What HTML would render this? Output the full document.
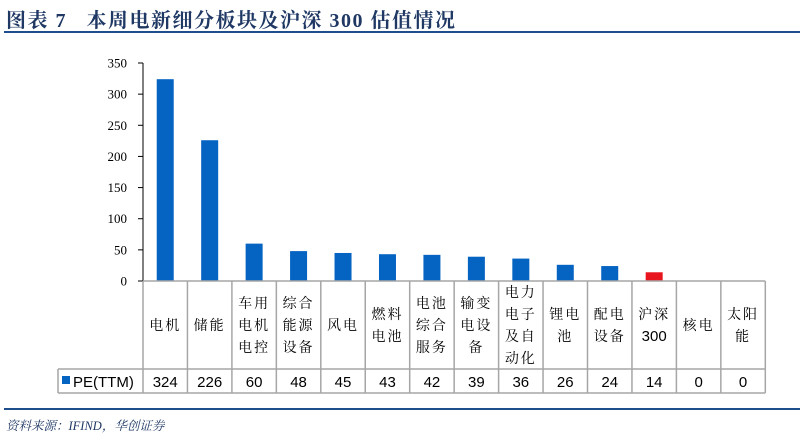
<!DOCTYPE html>
<html><head><meta charset="utf-8">
<style>
body{margin:0;width:804px;height:440px;background:#fff;position:relative;overflow:hidden;font-family:"Liberation Sans","Noto Sans CJK SC",sans-serif}
.title{position:absolute;left:6px;top:4px;font-family:"Liberation Serif","Noto Serif CJK SC",serif;font-weight:bold;font-size:20px;color:#1f3864;letter-spacing:1.5px;white-space:nowrap}
.rule{position:absolute;left:4px;width:796px;height:2px;background:#1f4e8c}
.src{position:absolute;left:6px;top:416px;font-family:"Liberation Serif","Noto Serif CJK SC",serif;font-style:italic;font-size:12.5px;color:#1f3864}
</style></head><body>
<div class="title">图表 7 &nbsp; 本周电新细分板块及沪深 300 估值情况</div>
<div class="rule" style="top:31px"></div>
<svg id="chart" width="804" height="440" style="position:absolute;left:0;top:0"></svg>
<div class="rule" style="top:408px"></div>
<div class="src">资料来源：IFIND，华创证券</div>
<script>
const categories=[["电机"],["储能"],["车用","电机","电控"],["综合","能源","设备"],["风电"],["燃料","电池"],["电池","综合","服务"],["输变","电设","备"],["电力","电子","及自","动化"],["锂电","池"],["配电","设备"],["沪深","300"],["核电"],["太阳","能"]];
const values=[324,226,60,48,45,43,42,39,36,26,24,14,0,0];
const highlight=[false,false,false,false,false,false,false,false,false,false,false,true,false,false];
const ticks=[0,50,100,150,200,250,300,350];
const svg=document.getElementById('chart');
const NS='http://www.w3.org/2000/svg';
const x0=143,cw=44.45,y0=281,ymax=350,ytop=63;
const y=v=>y0-(v/ymax)*(y0-ytop);
const cx=i=>x0+cw*i+cw/2;
function mk(t,a,txt){const e=document.createElementNS(NS,t);for(const k in a)e.setAttribute(k,a[k]);if(txt!==undefined)e.textContent=txt;svg.appendChild(e);return e;}
let e=mk('line',{x1:x0,y1:ytop,x2:x0,y2:y0,stroke:'#000','stroke-width':1});


ticks.forEach(t=>{
 const l=mk('line',{x1:x0-5,y1:y(t),x2:x0,y2:y(t),stroke:'#000'});
 
 
 const tx=mk('text',{x:127,y:y(t)+4.5,'text-anchor':'end','font-size':13,'font-family':'"Liberation Serif",serif'},t);
 
 
});
values.forEach((v,i)=>{
 const b=mk('rect',{x:cx(i)-8.5,y:y(v),width:17,height:y0-y(v),fill:highlight[i]?'#e8141e':'#0563c1'});
 
 
});
const tl=58,tr=x0+cw*values.length,r1=369,r2=393,gc='#a6a6a6';
mk('line',{x1:x0,y1:y0,x2:tr,y2:y0,stroke:gc,'stroke-width':1.5});
mk('line',{x1:tl,y1:r1,x2:tr,y2:r1,stroke:gc,'stroke-width':1.5});
mk('line',{x1:tl,y1:r2,x2:tr,y2:r2,stroke:gc,'stroke-width':1.5});
for(let i=0;i<=values.length;i++){mk('line',{x1:x0+cw*i,y1:y0,x2:x0+cw*i,y2:r2,stroke:gc,'stroke-width':1.5});}
mk('line',{x1:tl,y1:r1,x2:tl,y2:r2,stroke:gc,'stroke-width':1.5});
categories.forEach((c,i)=>{
 const n=c.length,mid=(y0+r1)/2,lh=22;
 c.forEach((s,j)=>{
  const digits=/^[0-9]+$/.test(s);
  const t=mk('text',{x:cx(i),y:mid-(n-1)*lh/2+j*lh+5,'text-anchor':'middle','font-size':digits?15:14,'letter-spacing':digits?0:2,'font-family':'"Liberation Sans","Noto Serif CJK SC",serif'},s);
  
  
 });
 const v=mk('text',{x:cx(i),y:r1+18,'text-anchor':'middle','font-size':15},values[i]);
 
 
});
const lg=mk('rect',{x:62,y:r1+7,width:8,height:8,fill:'#0563c1'});


const lt=mk('text',{x:73,y:r1+18,'font-size':15},'PE(TTM)');


</script>
</body></html>
